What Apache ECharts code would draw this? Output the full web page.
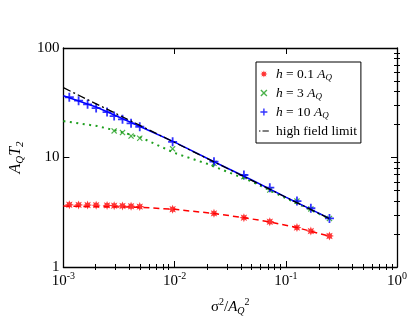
<!DOCTYPE html>
<html>
<head>
<meta charset="utf-8">
<script src="https://cdn.jsdelivr.net/npm/echarts@6/dist/echarts.min.js"></script>
<style>
html, body { margin: 0; padding: 0; background: #fff; }
#main { width: 415px; height: 321px; }
</style>
</head>
<body>
<div id="main"></div>
<script>
// sigma^2 / A_Q^2 of the simulated points
const xSim = [0.00113, 0.00137, 0.00165, 0.00197, 0.00247, 0.00286, 0.0034, 0.00406, 0.00486,
  0.0096, 0.0226, 0.042, 0.0718, 0.126, 0.168, 0.247];
// A_Q T_2, simulations
const t2Low = [3.70, 3.69, 3.68, 3.67, 3.65, 3.63, 3.61, 3.59, 3.56, 3.37, 3.09, 2.82, 2.59, 2.29, 2.13, 1.92];
const xMid = [0.00286, 0.0034, 0.00406, 0.00486, 0.0096, 0.0226, 0.042, 0.0718, 0.126, 0.168, 0.247];
const t2Mid = [17.5, 16.9, 15.7, 15.0, 12.0, 8.85, 6.68, 5.05, 4.0, 3.39, 2.78];
const t2High = [35.5, 33.0, 30.6, 28.3, 26.0, 23.9, 22.3, 20.5, 19.1, 13.9, 9.16, 6.92, 5.30, 4.0, 3.44, 2.78];

// theory curves
const xCurveLow = [0.001, 0.005, 0.01, 0.0226, 0.042, 0.0718, 0.126, 0.168, 0.247];
const curveLow = [3.60, 3.51, 3.36, 3.08, 2.82, 2.58, 2.29, 2.12, 1.91];
const xCurveMid = [0.001, 0.002, 0.003, 0.005, 0.01, 0.02, 0.05, 0.1, 0.247];
const curveMid = [21.5, 19.4, 17.6, 15.2, 11.0, 8.7, 6.0, 4.25, 2.76];
const xCurveHigh = [0.001, 0.002, 0.005, 0.01, 0.0226, 0.05, 0.1, 0.247];
const curveHigh = [36.7, 28.8, 19.0, 13.8, 9.15, 6.2, 4.35, 2.78];
const xLimit = [0.001, 0.247];
const limit = [43.4, 2.76];

// axes
const xMajor = [0.001, 0.01, 0.1, 1];
const xExp = ['-3', '-2', '-1', '0'];
const yLabels = ['1', '10', '100'];
const xMinor = [];
const yMinor = [];
for (let d = -3; d < 0; d++) for (let m = 2; m < 10; m++) xMinor.push(d + Math.log10(m));
for (let d = 0; d < 2; d++) for (let m = 2; m < 10; m++) yMinor.push(d + Math.log10(m));

const F = '"Liberation Serif", "DejaVu Serif", serif';
const rich = {
  n: { fontFamily: F, fontSize: 15, color: '#000' },
  i: { fontFamily: F, fontSize: 15, fontStyle: 'italic', color: '#000' },
  sup: { fontFamily: F, fontSize: 10, color: '#000', padding: [0, 0, 10, 0] },
  sub: { fontFamily: F, fontSize: 10, fontStyle: 'italic', color: '#000', padding: [8, 0, 0, 0] }
};
const yrich = {
  i: { fontFamily: F, fontSize: 16, fontStyle: 'italic', color: '#000' },
  sub: { fontFamily: F, fontSize: 11, fontStyle: 'italic', color: '#000', padding: [9, 0, 0, 0] }
};
const lrich = {
  n: { fontFamily: F, fontSize: 13.5, color: '#000' },
  i: { fontFamily: F, fontSize: 13.5, fontStyle: 'italic', color: '#000' },
  sub: { fontFamily: F, fontSize: 9, fontStyle: 'italic', color: '#000', padding: [7, 0, 0, 0] }
};

function starPath() {
  let p = 'path://';
  for (let k = 0; k < 16; k++) {
    const a = k * Math.PI / 8 - Math.PI / 2;
    const r = k % 2 ? 2.6 : 5;
    p += (k ? 'L' : 'M') + (5 + r * Math.cos(a)).toFixed(2) + ',' + (5 + r * Math.sin(a)).toFixed(2);
  }
  return p + 'Z';
}
const STAR = starPath();
const CROSS = 'path://M0,1.4L1.4,0L5,3.6L8.6,0L10,1.4L6.4,5L10,8.6L8.6,10L5,6.4L1.4,10L0,8.6L3.6,5Z';
const PLUS = 'path://M4,0H6V4H10V6H6V10H4V6H0V4H4Z';
const DASHDOT = 'path://M0,0M14,10M0,4.2H2V5.8H0ZM5,4.2H14V5.8H5Z';

const legendNames = {
  low: '{i|h}{n| = 0.1 }{i|A}{sub|Q}',
  mid: '{i|h}{n| = 3 }{i|A}{sub|Q}',
  high: '{i|h}{n| = 10 }{i|A}{sub|Q}',
  limit: '{n|high field limit}'
};

const pairs = (xs, ys) => xs.map((x, k) => [x, ys[k]]);
const axisLine = { show: true, lineStyle: { color: '#000', width: 1.3 } };

const gridBox = { left: 62, right: 18, top: 48, bottom: 54 };

function majorX(pos, labels) {
  return {
    type: 'log', logBase: 10, min: 0.001, max: 1, gridIndex: 0, position: pos,
    axisLine: axisLine, splitLine: { show: false },
    axisTick: { show: true, inside: true, length: 6, lineStyle: { color: '#000', width: 1 } },
    axisLabel: labels ? {
      show: true, margin: 4, rich: rich,
      formatter: v => {
        const k = xMajor.findIndex(t => Math.abs(Math.log10(t / v)) < 1e-6);
        return '{n|10}{sup|' + xExp[k] + '}';
      }
    } : { show: false },
    name: labels ? '{n|σ}{sup|2}{n|/}{i|A}{sub|Q}{sup|2}' : '',
    nameLocation: 'middle', nameGap: 30, nameTextStyle: { rich: rich }
  };
}
function majorY(pos, labels) {
  return {
    type: 'log', logBase: 10, min: 1, max: 100, gridIndex: 0, position: pos,
    axisLine: axisLine, splitLine: { show: false },
    axisTick: { show: true, inside: true, length: 6, lineStyle: { color: '#000', width: 1 } },
    axisLabel: labels ? {
      show: true, margin: 4, fontFamily: F, fontSize: 15, color: '#000',
      formatter: v => yLabels[Math.round(Math.log10(v))]
    } : { show: false },
    name: labels ? '{i|A}{sub|Q}{i|T}{sub|2}' : '',
    nameLocation: 'middle', nameGap: 27, nameRotate: 90, nameTextStyle: { rich: yrich }
  };
}
function minorAxis(pos, lo, hi, vals) {
  return {
    type: 'value', min: lo, max: hi, gridIndex: 1, position: pos,
    axisLine: { show: false }, splitLine: { show: false }, axisLabel: { show: false },
    axisTick: { show: true, inside: true, length: 3, customValues: vals, lineStyle: { color: '#000', width: 1 } }
  };
}

const chart = echarts.init(document.getElementById('main'));
chart.setOption({
  backgroundColor: '#fff',
  animation: false,
  grid: [Object.assign({}, gridBox), Object.assign({}, gridBox)],
  xAxis: [majorX('bottom', true), majorX('top', false), minorAxis('bottom', -3, 0, xMinor), minorAxis('top', -3, 0, xMinor)],
  yAxis: [majorY('left', true), majorY('right', false), minorAxis('left', 0, 2, yMinor), minorAxis('right', 0, 2, yMinor)],
  legend: {
    orient: 'vertical', left: 256, top: 62,
    backgroundColor: '#fff', borderColor: '#000', borderWidth: 1,
    padding: [5, 4, 5, 3], itemWidth: 14, itemHeight: 7, itemGap: 4,
    textStyle: { rich: lrich },
    formatter: name => legendNames[name],
    data: [
      { name: 'low', icon: STAR },
      { name: 'mid', icon: CROSS },
      { name: 'high', icon: PLUS },
      { name: 'limit', icon: DASHDOT }
    ]
  },
  series: [
    { name: 'lowCurve', type: 'line', data: pairs(xCurveLow, curveLow), showSymbol: false, color: '#ff0000',
      lineStyle: { width: 1.5, type: [6, 4] } },
    { name: 'midCurve', type: 'line', data: pairs(xCurveMid, curveMid), showSymbol: false, color: '#1f9f1f',
      lineStyle: { width: 2, type: [2, 4.5] } },
    { name: 'highCurve', type: 'line', data: pairs(xCurveHigh, curveHigh), showSymbol: false, color: '#0000ff',
      lineStyle: { width: 1.5 } },
    { name: 'limit', type: 'line', data: pairs(xLimit, limit), showSymbol: false, color: '#000',
      lineStyle: { width: 1.3, type: [8, 3, 2, 3] } },
    { name: 'low', type: 'scatter', data: pairs(xSim, t2Low), symbol: STAR, symbolSize: 9, color: '#ff0000' },
    { name: 'mid', type: 'scatter', data: pairs(xMid, t2Mid), symbol: CROSS, symbolSize: 6, color: '#1f9f1f' },
    { name: 'high', type: 'scatter', data: pairs(xSim, t2High), symbol: PLUS, symbolSize: 9, color: '#0000ff' }
  ]
});
</script>
</body>
</html>
